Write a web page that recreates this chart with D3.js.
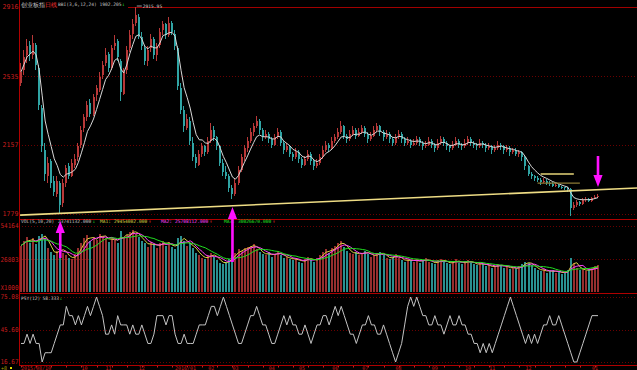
<!DOCTYPE html>
<html lang="zh">
<head>
<meta charset="utf-8">
<title>创业板指日线</title>
<script src="https://d3js.org/d3.v7.min.js"></script>
<style>
  html, body { margin: 0; padding: 0; background: #000; overflow: hidden; }
  svg { display: block; }
  text { font-family: "DejaVu Sans Mono", monospace; }
</style>
</head>
<body>
<script>

// daily candles (two sessions per bar)
var opens = [
  2500,2570,2650,2710,2650,2710,2580,2360,2130,1990,
  2070,1960,1890,1950,1840,1950,2040,1990,2050,2090,
  2160,2250,2310,2390,2330,2430,2460,2540,2610,2660,
  2580,2700,2730,2620,2440,2570,2690,2770,2830,2860,
  2750,2690,2620,2690,2740,2650,2710,2790,2820,2760,
  2830,2770,2690,2470,2350,2250,2290,2170,2090,2050,
  2110,2150,2120,2180,2240,2200,2150,2060,2010,1990,
  1920,1890,1950,2020,2090,2140,2180,2230,2260,2290,
  2240,2200,2220,2190,2160,2200,2230,2170,2130,2150,
  2110,2090,2120,2080,2050,2080,2110,2070,2040,2060,
  2090,2130,2160,2140,2180,2200,2230,2260,2210,2190,
  2220,2240,2210,2230,2250,2220,2190,2210,2240,2260,
  2230,2200,2220,2190,2170,2200,2220,2190,2170,2180,
  2160,2170,2190,2170,2150,2160,2180,2160,2140,2170,
  2190,2170,2150,2140,2160,2180,2160,2150,2170,2190,
  2170,2160,2150,2170,2160,2140,2150,2130,2140,2160,
  2150,2130,2140,2120,2130,2110,2120,2090,2040,2000,
  1985,1975,1965,1955,1960,1950,1945,1935,1940,1930,
  1925,1920,1915,1810,1830,1845,1835,1855,1860,1850,
  1865,1875
];
var highs = [
  2610,2680,2740,2730,2760,2720,2600,2380,2170,2090,
  2080,1990,1990,1960,1970,2050,2060,2080,2110,2170,
  2260,2330,2400,2410,2440,2490,2560,2620,2690,2670,
  2710,2760,2740,2630,2580,2700,2790,2850,2916,2880,
  2780,2710,2700,2770,2750,2720,2800,2840,2830,2860,
  2840,2790,2700,2500,2370,2330,2310,2200,2110,2130,
  2170,2160,2200,2280,2260,2210,2160,2080,2040,2000,
  1940,1970,2040,2110,2160,2200,2250,2280,2320,2300,
  2250,2240,2230,2200,2220,2250,2240,2180,2170,2160,
  2120,2140,2130,2090,2100,2130,2120,2080,2080,2110,
  2150,2180,2170,2200,2220,2250,2290,2270,2220,2240,
  2260,2250,2250,2270,2260,2230,2230,2260,2280,2270,
  2240,2240,2230,2200,2220,2240,2230,2200,2200,2190,
  2190,2210,2200,2180,2180,2200,2190,2170,2190,2210,
  2200,2180,2160,2180,2200,2190,2170,2190,2210,2200,
  2180,2170,2190,2180,2170,2170,2160,2160,2180,2170,
  2160,2160,2150,2140,2140,2130,2125,2100,2050,2010,
  1995,1990,1975,1975,1970,1960,1955,1950,1945,1935,
  1930,1925,1920,1845,1855,1850,1865,1870,1865,1875,
  1885,1890
];
var lows = [
  2480,2540,2610,2620,2630,2570,2350,2120,1960,1950,
  1920,1880,1870,1779,1820,1930,1970,1980,2030,2070,
  2140,2230,2290,2310,2320,2400,2450,2520,2590,2560,
  2570,2680,2620,2400,2430,2550,2670,2740,2810,2740,
  2680,2600,2590,2670,2630,2620,2690,2760,2740,2750,
  2760,2680,2460,2330,2230,2240,2160,2070,2030,2040,
  2090,2100,2110,2170,2180,2130,2040,1990,1970,1900,
  1860,1880,1940,2010,2070,2120,2170,2210,2250,2220,
  2180,2190,2170,2140,2150,2190,2150,2110,2120,2090,
  2070,2080,2060,2030,2040,2070,2050,2020,2030,2050,
  2080,2120,2120,2130,2170,2190,2220,2190,2170,2180,
  2210,2190,2200,2220,2200,2170,2180,2200,2230,2210,
  2180,2190,2170,2150,2160,2190,2170,2150,2160,2140,
  2150,2160,2150,2130,2140,2150,2140,2120,2130,2160,
  2150,2130,2120,2130,2150,2140,2130,2140,2160,2150,
  2140,2130,2140,2140,2120,2130,2110,2120,2130,2130,
  2110,2120,2100,2110,2100,2090,2070,2020,1990,1970,
  1960,1955,1940,1950,1940,1935,1925,1930,1920,1915,
  1910,1900,1768,1800,1820,1825,1830,1845,1845,1845,
  1860,1865
];
var closes = [
  2560,2640,2700,2660,2720,2600,2380,2150,2000,2060,
  1950,1900,1960,1830,1950,2030,1990,2060,2080,2150,
  2240,2310,2380,2330,2420,2470,2530,2600,2650,2580,
  2690,2720,2640,2450,2560,2680,2760,2820,2870,2760,
  2700,2620,2680,2740,2650,2700,2780,2820,2760,2830,
  2780,2700,2480,2350,2260,2300,2180,2090,2060,2110,
  2150,2120,2180,2240,2200,2150,2060,2010,1990,1920,
  1890,1950,2020,2090,2140,2180,2230,2260,2290,2240,
  2200,2220,2190,2160,2200,2230,2170,2130,2150,2110,
  2090,2120,2080,2050,2080,2110,2070,2040,2060,2090,
  2130,2160,2140,2180,2200,2230,2260,2210,2190,2220,
  2240,2210,2230,2250,2220,2190,2210,2240,2260,2230,
  2200,2220,2190,2170,2200,2220,2190,2170,2180,2160,
  2170,2190,2170,2150,2160,2180,2160,2140,2170,2190,
  2170,2150,2140,2160,2180,2160,2150,2170,2190,2170,
  2160,2150,2170,2160,2140,2150,2130,2140,2160,2150,
  2130,2140,2120,2130,2110,2120,2090,2040,2000,1985,
  1975,1965,1955,1960,1950,1945,1935,1940,1930,1925,
  1920,1915,1810,1830,1845,1835,1855,1860,1850,1865,
  1875,1880
];

// volume, millions
var volumes = [
  38,42,45,40,44,39,46,48,44,36,
  33,30,34,38,32,30,28,27,31,36,
  40,44,47,42,45,43,48,46,44,41,
  45,43,40,50,44,47,49,51,48,45,
  42,40,37,41,39,36,40,42,38,41,
  37,35,44,46,42,38,40,36,32,30,
  28,27,30,32,29,26,24,23,25,27,
  30,32,35,34,36,37,38,39,35,33,
  31,30,33,29,31,34,30,28,29,27,
  26,28,25,24,27,29,26,25,28,30,
  33,35,32,36,38,40,42,37,34,32,
  31,33,30,32,34,31,29,30,32,33,
  30,28,27,29,31,28,26,25,27,26,
  25,27,24,26,28,25,24,23,26,27,
  25,24,23,25,27,24,23,25,26,24,
  23,22,24,23,21,22,20,21,23,22,
  20,21,19,20,19,21,23,25,24,22,
  20,18,17,19,16,17,18,16,17,15,
  16,18,28,24,20,18,19,17,18,20,
  21,22
];

// PSY(12): number of up sessions out of 12
var psyUps = [
  4,4,5,4,5,4,4,2,3,3,
  3,4,5,6,6,8,7,7,6,7,
  6,7,8,7,8,9,8,7,5,5,
  6,5,7,6,6,6,5,6,5,5,
  6,5,4,4,5,7,7,7,6,7,
  7,5,4,4,5,4,4,4,5,6,
  6,6,7,8,8,7,8,9,8,7,
  6,5,4,4,5,6,7,7,8,7,
  6,6,5,4,4,5,6,7,6,7,
  6,6,5,5,6,5,4,5,6,6,
  7,7,6,7,8,7,8,7,6,5,
  5,4,5,6,6,7,6,6,5,5,
  6,5,4,3,2,3,4,6,8,9,
  8,9,8,7,7,6,6,7,6,6,
  5,6,7,6,6,7,6,6,5,5,
  4,4,3,4,3,4,3,4,5,6,
  7,8,9,8,7,6,5,4,5,4,
  5,4,5,6,6,7,6,6,7,6,
  5,4,3,2,2,3,4,5,6,7,
  7,7
];

var priceTicks = [2916, 2535, 2157, 1779];
var volTicks = [54.164, 26.803];
var volTickText = ["54164", "26803"];
var psyTicks = [75.08, 45.60, 16.67];

var dateLabels = ["2015/08/10","10","11","12","2016/01","02","03","04","05","06","07","08","09","10","11","12","01"];
var dateIdx = [0,20,28,39,51,62,70,82,92,103,113,124,136,147,155,167,189];

// drawn lines (bar index, price)
var trendIdx = [-0.3, 204];
var trendPrice = [1773, 1922];
var boxIdx = [[172, 183], [171, 185]];
var boxPrice = [1999, 1949];

// pink arrows: bar index, tip price, tail price
var arrowIdx = [13, 70, 191];
var arrowTip = [1740, 1817, 1927];
var arrowTail = [1537, 1515, 2098];

var bbiPeriods = [2, 3, 6, 12];
var volMaPeriods = [3, 5, 10];

var W = 637, H = 370;
var N = closes.length;

function ma(arr, n, i) {
  var s = 0, c = 0;
  for (var k = Math.max(0, i - n + 1); k <= i; k++) { s += arr[k]; c++; }
  return s / c;
}
var bbi = closes.map(function(c, i) {
  return d3.mean(bbiPeriods, function(p) { return ma(closes, p, i); });
});
var volMa = volMaPeriods.map(function(p) {
  return volumes.map(function(v, i) { return ma(volumes, p, i); });
});
var psy = psyUps.map(function(k) { return k * 100 / 12; });

var x = d3.scaleLinear().domain([0, N - 1]).range([21, 598]);
var yP = d3.scaleLinear().domain([1779, 2916]).range([214, 7]);
var yV = d3.scaleLinear().domain([0, 54.164]).range([292, 226]);
var yS = d3.scaleLinear().domain([16.67, 75.08]).range([362, 297]);

var UP = "#b83838", DOWN = "#30a4a4";
var VUP = "#962e2e", VDOWN = "#2a9090";
var RED = "#c81e1e", GRID = "#6a0000";

var svg = d3.select("body").append("svg")
  .attr("width", W).attr("height", H)
  .style("background", "#000");

// grid lines
var grid = svg.append("g").attr("shape-rendering", "crispEdges");
function hline(y, color, dash) {
  grid.append("line").attr("x1", 19).attr("x2", W)
    .attr("y1", Math.round(y) + 0.5).attr("y2", Math.round(y) + 0.5)
    .attr("stroke", color).attr("stroke-dasharray", dash || null);
}
priceTicks.forEach(function(v, i) { hline(yP(v), i == 0 ? "#a00000" : GRID, i == 0 ? null : "1,2"); });
volTicks.forEach(function(v) { hline(yV(v), GRID, "1,2"); });
psyTicks.forEach(function(v) { hline(yS(v), GRID, "1,2"); });
hline(219, "#b00000");
hline(293, "#b00000");
hline(365, "#b00000");
grid.append("line").attr("x1", 19.5).attr("x2", 19.5).attr("y1", 0).attr("y2", 366)
  .attr("stroke", "#b00000");

// candles
var idx = d3.range(N);
var cg = svg.append("g").attr("shape-rendering", "crispEdges");
function px(i) { return Math.round(x(i)); }
function up(i) { return closes[i] >= opens[i]; }

cg.selectAll(".wick").data(idx).join("line")
  .attr("class", "wick")
  .attr("x1", function(i) { return px(i) - 0.5; })
  .attr("x2", function(i) { return px(i) - 0.5; })
  .attr("y1", function(i) { return yP(highs[i]); })
  .attr("y2", function(i) { return yP(lows[i]); })
  .attr("stroke", function(i) { return up(i) ? UP : DOWN; });

cg.selectAll(".body").data(idx).join("rect")
  .attr("class", "body")
  .attr("x", function(i) { return px(i) - 1; })
  .attr("width", 2)
  .attr("y", function(i) { return yP(Math.max(opens[i], closes[i])); })
  .attr("height", function(i) { return Math.max(1, Math.abs(yP(opens[i]) - yP(closes[i]))); })
  .attr("fill", function(i) { return up(i) ? UP : DOWN; });

// BBI
svg.append("path").datum(bbi)
  .attr("fill", "none").attr("stroke", "#d8d8d8").attr("stroke-width", 1)
  .attr("d", d3.line().x(function(d, i) { return x(i); }).y(function(d) { return yP(d); }));

// drawn lines
svg.append("line")
  .attr("x1", x(trendIdx[0])).attr("y1", yP(trendPrice[0]))
  .attr("x2", x(trendIdx[1])).attr("y2", yP(trendPrice[1]))
  .attr("stroke", "#eedc84").attr("stroke-width", 1.6);
boxIdx.forEach(function(b, k) {
  svg.append("line")
    .attr("x1", x(b[0])).attr("x2", x(b[1]))
    .attr("y1", yP(boxPrice[k])).attr("y2", yP(boxPrice[k]))
    .attr("stroke", k == 0 ? "#e6d478" : "#8c7a34").attr("stroke-width", k == 0 ? 1.5 : 1.2);
});

// high marker
var hi = d3.maxIndex(highs);
svg.append("line")
  .attr("x1", x(hi) + 1).attr("x2", x(hi) + 6)
  .attr("y1", yP(highs[hi]) - 1).attr("y2", yP(highs[hi]) - 1)
  .attr("stroke", "#c0c0c0").attr("stroke-width", 0.8);
svg.append("text")
  .attr("x", x(hi) + 7).attr("y", yP(highs[hi]) + 0.6)
  .attr("font-size", 4.6).attr("fill", "#c0c0c0")
  .text("2915.95");

// volume bars
var vg = svg.append("g").attr("shape-rendering", "crispEdges");
vg.selectAll("rect").data(idx).join("rect")
  .attr("x", function(i) { return px(i) - 1; })
  .attr("width", 2)
  .attr("y", function(i) { return yV(volumes[i]); })
  .attr("height", function(i) { return yV(0) - yV(volumes[i]); })
  .attr("fill", function(i) { return up(i) ? VUP : VDOWN; });

var maColors = ["#d8d040", "#ff40ff", "#20e020"];
volMa.forEach(function(s, k) {
  svg.append("path").datum(s)
    .attr("fill", "none").attr("stroke", maColors[k]).attr("stroke-width", 1)
    .attr("d", d3.line().x(function(d, i) { return x(i); }).y(function(d) { return yV(d); }));
});

// PSY
svg.append("path").datum(psy)
  .attr("fill", "none").attr("stroke", "#c4c4c4").attr("stroke-width", 1)
  .attr("d", d3.line().x(function(d, i) { return x(i); }).y(function(d) { return yS(d); }));

// left axis labels, squeezed into the narrow axis strip
var ax = svg.append("g").attr("font-family", "DejaVu Sans, sans-serif")
  .attr("font-size", 6.6).attr("fill", RED).attr("text-anchor", "end");
function axisText(yp, txt) {
  var t = ax.append("text").attr("x", 18.5).attr("y", yp).attr("dy", "0.33em").text(txt);
  if (t.node().getComputedTextLength() > 18) {
    t.attr("textLength", 18).attr("lengthAdjust", "spacingAndGlyphs");
  }
}
priceTicks.forEach(function(v) { axisText(Math.max(yP(v), 5), v); });
volTicks.forEach(function(v, i) { axisText(yV(v), volTickText[i]); });
axisText(yV(0) - 4, "X1000");
psyTicks.forEach(function(v) { axisText(Math.min(yS(v), 361.5), v.toFixed(2)); });

// date axis
var dg = svg.append("g");
dg.selectAll("line").data(d3.range(0, N, 5)).join("line")
  .attr("x1", function(i) { return px(i) + 0.5; }).attr("x2", function(i) { return px(i) + 0.5; })
  .attr("y1", 366).attr("y2", 367.5).attr("stroke", RED);
dg.selectAll("text").data(dateLabels).join("text")
  .attr("x", function(d, k) { return x(dateIdx[k]); })
  .attr("y", 369.8)
  .attr("font-size", 5).attr("fill", RED)
  .text(function(d) { return d; });
svg.append("text").attr("x", 1).attr("y", 369.8).attr("font-size", 5).attr("fill", "#a8a000").text("+8");
svg.append("rect").attr("x", 10).attr("y", 367).attr("width", 2).attr("height", 2).attr("fill", "#e0e000");

// headers
svg.append("rect").attr("x", 20).attr("y", 0).attr("width", 108).attr("height", 8.5).attr("fill", "#000");
function label(xp, yp, txt, color, font, size) {
  svg.append("text").attr("x", xp).attr("y", yp)
    .attr("font-size", size || 4.6).attr("fill", color)
    .attr("font-family", font || null)
    .text(txt);
}
label(21, 6.5, "创业板指", "#c8c8c8", "Noto Sans CJK SC", 5.8);
label(44.5, 6.5, "日线", "#ff3030", "Noto Sans CJK SC", 5.8);
label(58, 6.2, "BBI(3,6,12,24) 1902.205", "#c0c0c0");
label(122, 6.2, "↓", "#20e020");

label(21, 223.4, "VOL(5,10,20)", "#c0c0c0");
label(58, 223.4, "23741132.000", "#c0c0c0");
label(92.5, 223.4, "↓", "#20e020");
label(100, 223.4, "MA1:", "#d8d040");
label(114, 223.4, "29454002.000", "#d8d040");
label(148.5, 223.4, "↑", "#ff3030");
label(161, 223.4, "MA2:", "#ff40ff");
label(175, 223.4, "25708112.000", "#ff40ff");
label(209.5, 223.4, "↑", "#ff3030");
label(224, 223.4, "MA3:", "#20e020");
label(238, 223.4, "30026670.000", "#20e020");
label(272.5, 223.4, "↑", "#ff3030");

label(21, 299.6, "PSY(12)", "#c0c0c0");
label(42.5, 299.6, "58.333", "#c0c0c0");
label(59.5, 299.6, "↓", "#20e020");

// pink arrows
arrowIdx.forEach(function(a, k) {
  var cx = x(a), tip = yP(arrowTip[k]), tail = yP(arrowTail[k]);
  var dir = tail > tip ? 1 : -1;
  var base = tip + dir * 12;
  svg.append("path")
    .attr("d", "M" + (cx - 1.3) + "," + tail + "L" + (cx - 1.3) + "," + base +
      "L" + (cx - 4.6) + "," + base + "L" + cx + "," + tip + "L" + (cx + 4.6) + "," + base +
      "L" + (cx + 1.3) + "," + base + "L" + (cx + 1.3) + "," + tail + "Z")
    .attr("fill", "#ff10ff");
});

</script>
</body>
</html>
